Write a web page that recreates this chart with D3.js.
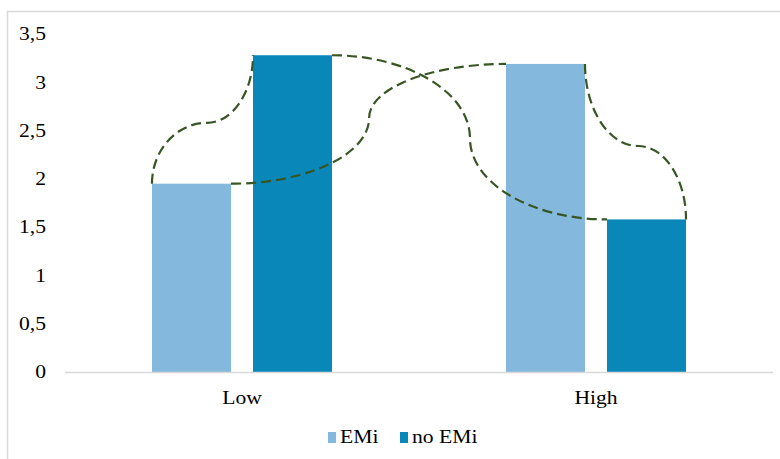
<!DOCTYPE html>
<html>
<head>
<meta charset="utf-8">
<script src="https://cdn.jsdelivr.net/npm/d3@7"></script>
<style>
  html, body { margin: 0; padding: 0; background: #fff; }
  svg { display: block; }
  text { font-family: "Liberation Serif", "Times New Roman", serif; fill: #000; }
</style>
</head>
<body>
<svg id="chart" width="780" height="459"></svg>
<script>
// Categories, series and values
const categories = ["Low", "High"];
const series = ["EMi", "no EMi"];
const emiValues = [1.95, 3.19];
const noEmiValues = [3.28, 1.58];
const yTicks = [0, 0.5, 1, 1.5, 2, 2.5, 3, 3.5];
const seriesColors = ["#84b8dc", "#0a87b9"];

// Dashed connectors between bar corners: start/end corners and a turning point
// (u = position along the category axis, v = value) where the curve changes direction.
const connectors = [
  { from: [0, 0, "left"],  mid: [0.401, 2.58], to: [0, 1, "left"],  start: "v" },
  { from: [0, 0, "right"], mid: [0.859, 2.63], to: [1, 0, "left"],  start: "h" },
  { from: [0, 1, "right"], mid: [1.144, 2.42], to: [1, 1, "left"],  start: "h" },
  { from: [1, 0, "right"], mid: [1.619, 2.34], to: [1, 1, "right"], start: "v" }
];

const values = [emiValues, noEmiValues];
const svg = d3.select("#chart");
const fs = 18;   // label font size
const tx = 1.2;  // horizontal stretch of the serif labels

// Outer frame
svg.append("rect")
  .attr("x", 7.5).attr("y", 11.5)
  .attr("width", 790).attr("height", 470)
  .attr("fill", "none").attr("stroke", "#d9d9d9").attr("stroke-width", 1.5);

const x0 = d3.scaleBand().domain(categories).range([65, 773]);
const x1 = d3.scaleBand().domain(series).range([0, x0.bandwidth()])
  .paddingInner(0.218).paddingOuter(0.861);
const xPos = d3.scaleLinear().domain([0, 2]).range([65, 773]);
const y = d3.scaleLinear().domain([0, 3.5]).range([372, 34]);

// Y tick labels
const yl = svg.append("g").selectAll("g").data(yTicks).join("g")
  .attr("transform", d => `translate(46,${y(d)})`);
yl.append("text")
  .attr("transform", `scale(${tx},1)`)
  .attr("text-anchor", "end").attr("dy", "0.35em")
  .attr("font-size", fs)
  .text(d => d3.format(".1~f")(d).replace(".", ","));

// Bars
const groups = svg.append("g").selectAll("g").data(categories).join("g")
  .attr("transform", c => `translate(${x0(c)},0)`);
groups.selectAll("rect")
  .data((c, ci) => series.map((s, si) => ({ s, si, v: values[si][ci] })))
  .join("rect")
  .attr("x", d => x1(d.s))
  .attr("width", x1.bandwidth())
  .attr("y", d => y(d.v))
  .attr("height", d => y(0) - y(d.v))
  .attr("fill", d => seriesColors[d.si]);

// Category axis line
svg.append("line")
  .attr("x1", 65).attr("x2", 773)
  .attr("y1", y(0) + 0.5).attr("y2", y(0) + 0.5)
  .attr("stroke", "#d9d9d9").attr("stroke-width", 1.5);

// Category labels
svg.append("g").selectAll("g").data(categories).join("g")
  .attr("transform", c => `translate(${x0(c) + x0.bandwidth() / 2},404)`)
  .append("text")
  .attr("transform", `scale(${tx},1)`)
  .attr("text-anchor", "middle")
  .attr("font-size", fs)
  .text(c => c);

// Connectors drawn as two quarter-ellipse cubic segments each
function corner([ci, si, side]) {
  const bx = x0(categories[ci]) + x1(series[si]) + (side === "right" ? x1.bandwidth() : 0);
  return [bx, y(values[si][ci])];
}
const k = 0.552;
function quarter(p, P, Q, startDir) {
  if (startDir === "v") {
    p.bezierCurveTo(P[0], P[1] + k * (Q[1] - P[1]), Q[0] - k * (Q[0] - P[0]), Q[1], Q[0], Q[1]);
  } else {
    p.bezierCurveTo(P[0] + k * (Q[0] - P[0]), P[1], Q[0], Q[1] - k * (Q[1] - P[1]), Q[0], Q[1]);
  }
}
svg.append("g").selectAll("path").data(connectors).join("path")
  .attr("d", c => {
    const A = corner(c.from), B = corner(c.to);
    const M = [xPos(c.mid[0]), y(c.mid[1])];
    const p = d3.path();
    p.moveTo(A[0], A[1]);
    quarter(p, A, M, c.start);
    quarter(p, M, B, c.start === "v" ? "h" : "v");
    return p.toString();
  })
  .attr("fill", "none")
  .attr("stroke", "#375623")
  .attr("stroke-width", 2.2)
  .attr("stroke-dasharray", "10,5");

// Legend
const legendItems = [
  { name: series[0], color: seriesColors[0], x: 328 },
  { name: series[1], color: seriesColors[1], x: 400 }
];
const lg = svg.append("g").selectAll("g").data(legendItems).join("g")
  .attr("transform", d => `translate(${d.x},0)`);
lg.append("rect")
  .attr("x", 0).attr("y", 432).attr("width", 8).attr("height", 11)
  .attr("fill", d => d.color);
lg.append("g").attr("transform", "translate(12,443)")
  .append("text")
  .attr("transform", `scale(${tx},1)`)
  .attr("font-size", fs)
  .text(d => d.name);
</script>
</body>
</html>
